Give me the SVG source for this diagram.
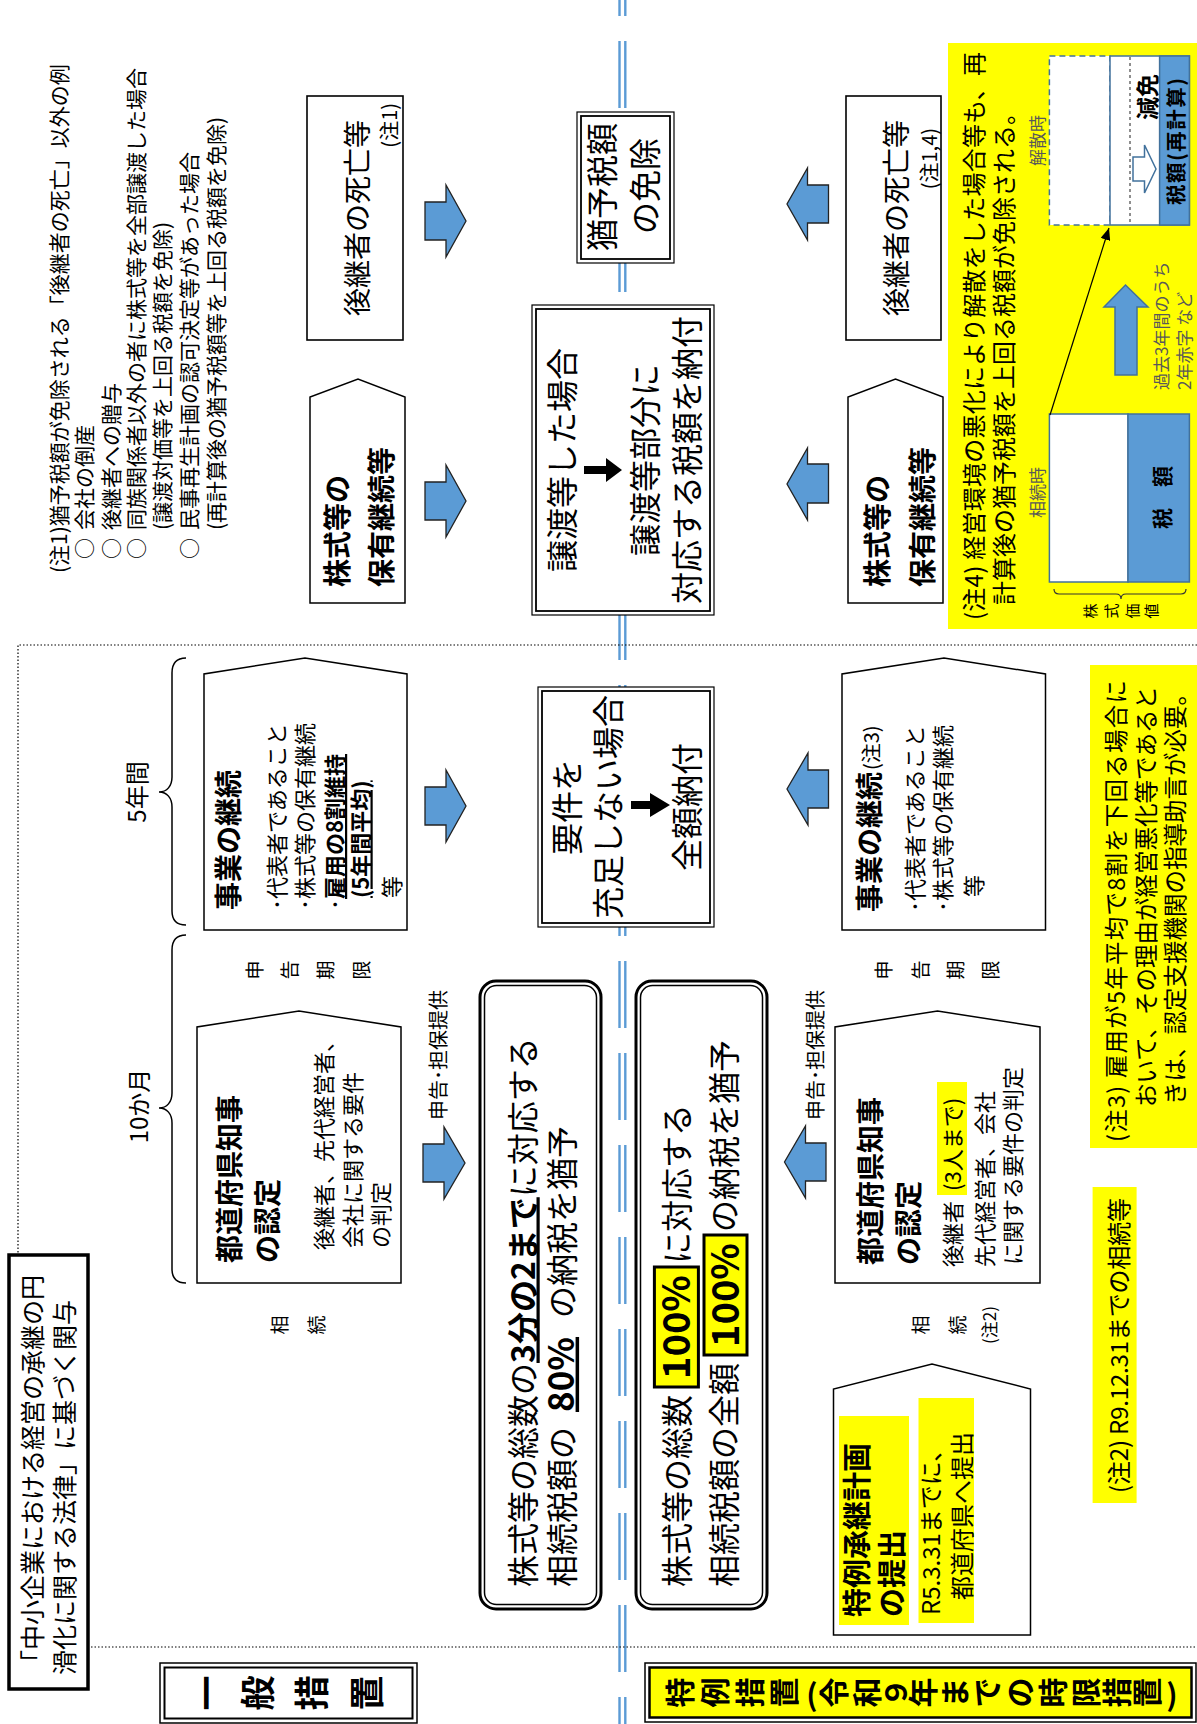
<svg xmlns="http://www.w3.org/2000/svg" width="1197" height="1724" viewBox="0 0 1197 1724">
<defs>
<style>
text{font-family:"Noto Sans CJK JP","Noto Sans CJK SC",sans-serif;fill:#000}
.b{font-weight:700}
.m{text-anchor:middle}
.e{text-anchor:end}
.u{text-decoration:underline}
.g{fill:#595959}
.box{fill:#fff;stroke:#000;stroke-width:1.6}
.in{fill:none;stroke:#000;stroke-width:1.8}
.out{fill:#fff;stroke:#000;stroke-width:1.2}
.pent{fill:#fff;stroke:#000;stroke-width:1.5}
.arr{fill:#5B9BD5;stroke:#222;stroke-width:1.3}
.bl{stroke:#5B9BD5;stroke-width:2.4;stroke-dasharray:67 25;fill:none}
.brace{fill:none;stroke:#000;stroke-width:1.5}
.yel{fill:#FFFF00}
.cb{stroke:#41719C;stroke-width:1.5}
</style>
<marker id="ah" viewBox="0 0 12 10" refX="12" refY="5" markerWidth="12" markerHeight="10" orient="auto" markerUnits="userSpaceOnUse"><path d="M0,0 L12,5 L0,10 Z" fill="#000"/></marker>
</defs>
<rect width="1197" height="1724" fill="#fff"/>

<g id="background">
<line class="bl" x1="619.5" y1="-51" x2="619.5" y2="1724"/>
<line class="bl" x1="625.3" y1="-51" x2="625.3" y2="1724"/>
<path d="M1197,645 H18 V1647 H1197" fill="none" stroke="#000" stroke-width="1.2" stroke-dasharray="1.5 2"/>
</g>

<g id="law">
<rect x="9" y="1255" width="79" height="434" fill="#fff" stroke="#000" stroke-width="3.5"/>
<g transform="matrix(0,-1,1,0,0,1724)" font-size="25">
<text x="49" y="42">「中小企業における経営の承継の円</text>
<text x="49" y="73.5">滑化に関する法律」に基づく関与</text>
</g>
</g>

<g id="label-general">
<rect x="160" y="1663" width="257" height="60" fill="#fff" stroke="#000" stroke-width="1.5"/>
<rect x="164.5" y="1667.5" width="248" height="51" fill="none" stroke="#000" stroke-width="2"/>
<g transform="matrix(0,-1,1,0,0,1724)" class="b m" font-size="35">
<text x="31" y="219.6">一</text><text x="31" y="271.3">般</text><text x="31" y="325">措</text><text x="31" y="380.4">置</text>
</g>
</g>

<g id="label-special">
<rect x="645" y="1663" width="551" height="59" fill="#fff" stroke="#000" stroke-width="1.5"/>
<rect x="649.5" y="1667.5" width="542" height="50" class="yel" stroke="#000" stroke-width="2.5"/>
<g transform="matrix(0,-1,1,0,0,1724)" class="b m" font-size="30">
<text x="31.5" y="691">特</text><text x="31.5" y="726">例</text><text x="31.5" y="761">措</text><text x="31.5" y="795">置</text>
<text x="31.5" y="812" dominant-baseline="central" transform="rotate(90 31.5 812)">(</text>
<text x="31.5" y="845">令</text><text x="31.5" y="878">和</text><text x="31.5" y="907">９</text><text x="31.5" y="934">年</text>
<text x="31.5" y="966">ま</text><text x="31.5" y="998">で</text><text x="31.5" y="1031">の</text><text x="31.5" y="1064">時</text>
<text x="31.5" y="1097">限</text><text x="31.5" y="1128">措</text><text x="31.5" y="1158">置</text>
<text x="31.5" y="1172" dominant-baseline="central" transform="rotate(90 31.5 1172)">)</text>
</g>
</g>

<g id="note1">
<g transform="matrix(0,-1,1,0,0,1724)" font-size="21">
<text x="1151" y="67.3">(注1)猶予税額が免除される「後継者の死亡」以外の例</text>
<text x="1165" y="92.2">○</text><text x="1194" y="92.2">会社の倒産</text>
<text x="1165" y="118.8">○</text><text x="1194" y="118.8">後継者への贈与</text>
<text x="1165" y="143.8">○</text><text x="1194" y="143.8">同族関係者以外の者に株式等を全部譲渡した場合</text>
<text x="1194" y="170.4">(譲渡対価等を上回る税額を免除)</text>
<text x="1165" y="197.2">○</text><text x="1194" y="197.2">民事再生計画の認可決定等があった場合</text>
<text x="1194" y="224">(再計算後の猶予税額等を上回る税額を免除)</text>
</g>
</g>

<g id="death-general">
<rect class="box" x="307" y="96" width="96" height="244"/>
<g transform="matrix(0,-1,1,0,0,1724)">
<text x="1506" y="367.5" class="m" font-size="28">後継者の死亡等</text>
<text x="1621" y="397" class="e" font-size="20">(注1)</text>
</g>
</g>

<g id="death-special">
<rect class="box" x="846" y="96" width="95" height="244"/>
<g transform="matrix(0,-1,1,0,0,1724)">
<text x="1506" y="907" class="m" font-size="28">後継者の死亡等</text>
<text x="1596" y="936.5" class="e" font-size="20">(注1,4)</text>
</g>
</g>

<g id="exemption">
<rect class="out" x="577" y="112" width="97" height="151"/>
<rect class="in" x="581" y="116" width="89" height="143"/>
<g transform="matrix(0,-1,1,0,0,1724)" class="m" font-size="32">
<text x="1537" y="614">猶予税額</text>
<text x="1538" y="657">の免除</text>
</g>
</g>

<g id="transfer">
<rect class="out" x="532" y="305" width="182" height="310"/>
<rect class="in" x="536" y="309" width="174" height="302"/>
<path d="M584,466 H606 V458 L622,470 L606,482 V474 H584 Z" fill="#000"/>
<g transform="matrix(0,-1,1,0,0,1724)" class="m" font-size="32">
<text x="1264" y="573.5">譲渡等した場合</text>
<text x="1264" y="657">譲渡等部分に</text>
<text x="1264" y="699">対応する税額を納付</text>
</g>
</g>

<g id="failure">
<rect class="out" x="538" y="687" width="176" height="240"/>
<rect class="in" x="542" y="691" width="168" height="232"/>
<path d="M631,801 H650 V793 L670,805 L650,817 V809 H631 Z" fill="#000"/>
<g transform="matrix(0,-1,1,0,0,1724)" class="m" font-size="32">
<text x="917" y="579">要件を</text>
<text x="917" y="620">充足しない場合</text>
<text x="917" y="699">全額納付</text>
</g>
</g>

<g id="hold-general">
<path class="pent" d="M310,603 V397 L358,379 L405,397 V603 Z"/>
<g transform="matrix(0,-1,1,0,0,1724)" class="b" font-size="28">
<text x="1137" y="348.4">株式等の</text>
<text x="1137" y="392.4">保有継続等</text>
</g>
</g>

<g id="hold-special">
<path class="pent" d="M848,603 V397 L895.5,379 L943,397 V603 Z"/>
<g transform="matrix(0,-1,1,0,0,1724)" class="b" font-size="28">
<text x="1137" y="888.4">株式等の</text>
<text x="1137" y="933">保有継続等</text>
</g>
</g>

<g id="business-general">
<path class="pent" d="M204,930 V674 L305,658 L407,674 V930 Z"/>
<g transform="matrix(0,-1,1,0,0,1724)">
<text x="814" y="238.5" class="b" font-size="28">事業の継続</text>
<text x="814" y="284.7" font-size="22">･代表者であること</text>
<text x="814" y="313.4" font-size="22">･株式等の保有継続</text>
<text x="814" y="343" font-size="22">･<tspan class="b u">雇用の8割維持</tspan></text>
<text x="826" y="368.5" font-size="22" class="b u">(5年間平均)</text>
<text x="826" y="399.5" font-size="22">等</text>
</g>
</g>

<g id="business-special">
<path class="pent" d="M842,930 V674 L944,658 L1045.5,674 V930 Z"/>
<g transform="matrix(0,-1,1,0,0,1724)">
<text x="812" y="880.4" class="b" font-size="28">事業の継続</text>
<text x="954" y="878.5" font-size="20">(注3)</text>
<text x="812" y="922.8" font-size="22">･代表者であること</text>
<text x="812" y="950.8" font-size="22">･株式等の保有継続</text>
<text x="827" y="982.2" font-size="22">等</text>
</g>
</g>

<g id="approval-general">
<path class="pent" d="M197,1283 V1027 L299,1011 L401,1027 V1283 Z"/>
<g transform="matrix(0,-1,1,0,0,1724)">
<text x="461" y="239.5" class="b" font-size="28">都道府県知事</text>
<text x="461" y="277.5" class="b" font-size="28">の認定</text>
<text x="474" y="331.7" font-size="22">後継者、先代経営者、</text>
<text x="476" y="361.2" font-size="22">会社に関する要件</text>
<text x="476" y="389.2" font-size="22">の判定</text>
</g>
</g>

<g id="approval-special">
<path class="pent" d="M835,1283 V1027 L937.5,1011 L1040,1027 V1283 Z"/>
<rect x="937" y="1082" width="30" height="113" class="yel"/>
<g transform="matrix(0,-1,1,0,0,1724)">
<text x="459" y="881" class="b" font-size="28">都道府県知事</text>
<text x="459" y="919.4" class="b" font-size="28">の認定</text>
<text x="457" y="961.3" font-size="22">後継者</text>
<text x="533" y="961.3" font-size="22">(3人まで)</text>
<text x="457" y="992.7" font-size="22">先代経営者、会社</text>
<text x="459" y="1021.2" font-size="22">に関する要件の判定</text>
</g>
</g>

<g id="plan">
<path class="pent" d="M833.5,1635 V1389 L932,1364 L1030.5,1389 V1635 Z"/>
<rect x="839" y="1416" width="70" height="209" class="yel"/>
<rect x="918.5" y="1398" width="55.5" height="225" class="yel"/>
<g transform="matrix(0,-1,1,0,0,1724)">
<text x="107" y="868" class="b" font-size="29">特例承継計画</text>
<text x="107" y="903" class="b" font-size="29">の提出</text>
<text x="109" y="940" font-size="24">R5.3.31までに、</text>
<text x="124" y="970.5" font-size="24">都道府県へ提出</text>
</g>
</g>

<g id="deferral-general">
<rect x="480" y="981" width="121" height="628" rx="16" fill="#fff" stroke="#000" stroke-width="3"/>
<rect x="484.5" y="985.5" width="112" height="619" rx="12" fill="none" stroke="#000" stroke-width="1.5"/>
<g transform="matrix(0,-1,1,0,0,1724)" font-size="32">
<text x="137" y="534.5">株式等の総数の<tspan class="b u">3分の2まで</tspan>に対応する</text>
<text x="137" y="573.6">相続税額の<tspan x="312" class="b u" font-size="35">80%</tspan><tspan x="406">の納税を猶予</tspan></text>
</g>
</g>

<g id="deferral-special">
<rect x="636" y="981" width="131" height="628" rx="16" fill="#fff" stroke="#000" stroke-width="3"/>
<rect x="640.5" y="985.5" width="122" height="619" rx="12" fill="none" stroke="#000" stroke-width="1.5"/>
<rect x="654.4" y="1267" width="44" height="120" class="yel" stroke="#000" stroke-width="3"/>
<rect x="704" y="1235" width="43" height="120" class="yel" stroke="#000" stroke-width="3"/>
<g transform="matrix(0,-1,1,0,0,1724)" font-size="32">
<text x="137" y="689">株式等の総数</text>
<text x="397" y="690" class="b m" font-size="38">100%</text>
<text x="460" y="689">に対応する</text>
<text x="137" y="736">相続税額の全額</text>
<text x="429" y="739" class="b m" font-size="38">100%</text>
<text x="492" y="736">の納税を猶予</text>
</g>
</g>

<g id="timeline-labels">
<path class="brace" d="M186,658 C176,658 172,663 172,673 V777 C172,786 167,792 159,792 C167,792 172,798 172,807 V911 C172,920 176,925 186,925"/>
<path class="brace" d="M186,935 C176,935 172,940 172,950 V1093 C172,1102 167,1108 159,1108 C167,1108 172,1114 172,1123 V1269 C172,1278 176,1283 186,1283"/>
<g transform="matrix(0,-1,1,0,0,1724)">
<text x="932" y="146" class="m" font-size="24">5年間</text>
<text x="618" y="147.5" class="m" font-size="24">10か月</text>
<g class="m" font-size="19">
<text x="754" y="261.5">申</text><text x="754" y="296.6">告</text><text x="754" y="332.5">期</text><text x="754" y="368.5">限</text>
<text x="754" y="891">申</text><text x="754" y="927.5">告</text><text x="754" y="962.5">期</text><text x="754" y="998">限</text>
<text x="399" y="287">相</text><text x="399" y="323.7">続</text>
<text x="399" y="928">相</text><text x="399" y="964.5">続</text>
</g>
<text x="399" y="996" class="m" font-size="17">(注2)</text>
<text x="604" y="445.5" font-size="20">申告･担保提供</text>
<text x="604" y="822.5" font-size="20">申告･担保提供</text>
</g>
</g>

<g id="note3">
<rect x="1090" y="665" width="107" height="483" class="yel"/>
<g transform="matrix(0,-1,1,0,0,1724)" font-size="23.5">
<text x="582" y="1124.5" textLength="462" lengthAdjust="spacing">(注3) 雇用が5年平均で8割を下回る場合に</text>
<text x="617" y="1155">おいて、その理由が経営悪化等であると</text>
<text x="619" y="1184">きは、認定支援機関の指導助言が必要。</text>
</g>
</g>

<g id="note2">
<rect x="1092.6" y="1187" width="44" height="316" class="yel"/>
<g transform="matrix(0,-1,1,0,0,1724)" font-size="24">
<text x="231" y="1127.5" textLength="295" lengthAdjust="spacing">(注2) R9.12.31までの相続等</text>
</g>
</g>

<g id="note4">
<rect x="948" y="43" width="249" height="586" class="yel"/>
<rect x="1049.4" y="414" width="78.6" height="168" fill="#fff" class="cb"/>
<rect x="1128" y="414" width="61.4" height="168" fill="#5B9BD5" class="cb"/>
<path d="M1054,589 Q1054,594 1059,594 H1116 Q1121,594 1121,599 Q1121,594 1126,594 H1181 Q1186,594 1186,589" fill="none" stroke="#333" stroke-width="1.2"/>
<rect x="1049.4" y="56" width="60.6" height="169" fill="#fff" stroke="#41719C" stroke-width="1.5" stroke-dasharray="6 4"/>
<rect x="1110" y="56" width="79.4" height="169" fill="#fff" class="cb"/>
<line x1="1130" y1="57" x2="1130" y2="224" stroke="#444" stroke-width="1.2" stroke-dasharray="3 3"/>
<rect x="1159.6" y="56" width="29.8" height="169" fill="#5B9BD5" class="cb"/>
<path d="M1133,157 H1144.5 V145 L1156,169 L1144.5,193 V181 H1133 Z" fill="#fff" class="cb"/>
<path d="M1115,375 V307 H1104 L1125.5,285 L1148,307 H1137 V375 Z" fill="#5B9BD5" class="cb"/>
<line x1="1050" y1="415" x2="1109" y2="228" stroke="#000" stroke-width="1.2" marker-end="url(#ah)"/>
<g transform="matrix(0,-1,1,0,0,1724)">
<text x="1104" y="983" font-size="24" textLength="568" lengthAdjust="spacing">(注4) 経営環境の悪化により解散をした場合等も、再</text>
<text x="1119" y="1012.5" font-size="24">計算後の猶予税額を上回る税額が免除される。</text>
<text x="1231.5" y="1043.6" class="m g" font-size="17">相続時</text>
<text x="1583.5" y="1043.6" class="m g" font-size="17">解散時</text>
<text x="1226.5" y="1169.5" class="m b" font-size="21">税　額</text>
<text x="1519" y="1184.3" class="b" font-size="20.5" textLength="127" lengthAdjust="spacing">税額(再計算)</text>
<text x="1604" y="1156.3" class="b" font-size="23">減免</text>
<text x="1334" y="1168" class="g" font-size="17">過去3年間のうち</text>
<text x="1334" y="1191" class="g" font-size="17">2年赤字 など</text>
<g class="m g" font-size="15">
<text x="1113" y="1096.3">株</text><text x="1113" y="1117.2">式</text><text x="1113" y="1138.2">価</text><text x="1113" y="1157.4">値</text>
</g>
</g>
</g>

<g id="connectors">
<path class="arr" d="M425,202 H446 V185 L466,221 L446,257 V240 H425 Z"/>
<path class="arr" d="M828.5,185 H807.5 V168 L787,204 L807.5,240 V223 H828.5 Z"/>
<path class="arr" d="M425,482 H446 V465 L466,501 L446,537 V520 H425 Z"/>
<path class="arr" d="M828.5,464 H807.5 V448 L787,484 L807.5,520 V503 H828.5 Z"/>
<path class="arr" d="M425,787 H446 V770 L466,806 L446,842 V825 H425 Z"/>
<path class="arr" d="M828.5,770 H808 V753 L787,789 L808,825 V808 H828.5 Z"/>
<path class="arr" d="M423,1144 H444 V1127 L465,1163 L444,1199 V1182 H423 Z"/>
<path class="arr" d="M826,1143 H805.5 V1126 L784.5,1162 L805.5,1198 V1181 H826 Z"/>
</g>
</svg>
